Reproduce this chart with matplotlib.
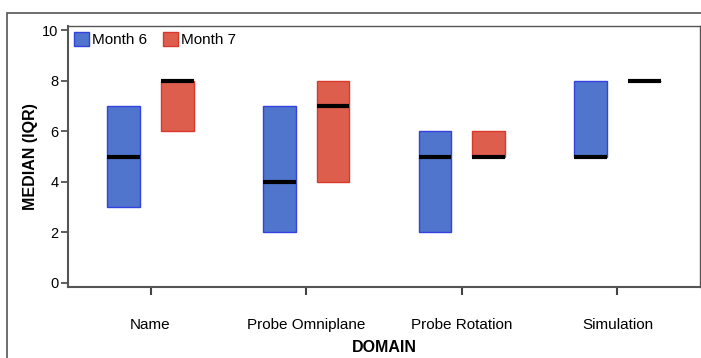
import matplotlib
matplotlib.use("Agg")
import matplotlib.pyplot as plt
from matplotlib.patches import Patch, Rectangle

plt.rcParams['font.family'] = ['Liberation Sans', 'DejaVu Sans']

domains = ["Name", "Probe Omniplane", "Probe Rotation", "Simulation"]
m6_q1 = [3, 2, 2, 5]
m6_med = [5, 4, 5, 5]
m6_q3 = [7, 7, 6, 8]
m7_q1 = [6, 4, 5, 8]
m7_med = [8, 7, 5, 8]
m7_q3 = [8, 8, 6, 8]

blue_fill, blue_edge = "#5075cc", "#3341e0"
red_fill, red_edge = "#de5e4e", "#d9382c"

fig = plt.figure(figsize=(7.01, 3.58), dpi=100)
# outer frame, partly cut off by the screenshot
fig.patches.append(Rectangle((7 / 701, -0.1), 1.2, (358 - 13) / 358 + 0.1,
                             transform=fig.transFigure, fill=False,
                             edgecolor="#555555", lw=1.2))

ax = fig.add_axes([68 / 701, (358 - 287) / 358, 632 / 701, 261 / 358])

x = range(len(domains))
off, w = 0.173, 0.21
for i in x:
    for xc, q1, med, q3, fc, ec in [
        (i - off, m6_q1[i], m6_med[i], m6_q3[i], blue_fill, blue_edge),
        (i + off, m7_q1[i], m7_med[i], m7_q3[i], red_fill, red_edge),
    ]:
        ax.bar(xc, q3 - q1, bottom=q1, width=w, color=fc, edgecolor=ec, lw=1)
        ax.hlines(med, xc - w / 2, xc + w / 2, color="black", lw=3)

ax.set_xlim(-0.53, 3.53)
ax.set_ylim(-0.16, 10.16)
ax.set_yticks([0, 2, 4, 6, 8, 10])
ax.set_xticks(list(x))
ax.set_xticklabels(domains, fontsize=11)
ax.tick_params(axis="y", labelsize=10.5, length=5, width=1.2, color="#444444", pad=2)
ax.tick_params(axis="x", length=6, width=1.5, color="#444444", pad=16)
for s in ax.spines.values():
    s.set_color("#555555")
    s.set_linewidth(1)
ax.spines["left"].set_linewidth(1.5)
ax.spines["bottom"].set_linewidth(1.5)

ax.set_ylabel("MEDIAN (IQR)", fontsize=11.5, fontweight="bold", labelpad=3)
ax.set_xlabel("DOMAIN", fontsize=11.5, fontweight="bold", labelpad=6)

handles = [Patch(facecolor=blue_fill, edgecolor=blue_edge, label="Month 6"),
           Patch(facecolor=red_fill, edgecolor=red_edge, label="Month 7")]
ax.legend(handles=handles, loc="upper left", ncol=2, frameon=False,
          fontsize=11, handlelength=1.0, handleheight=1.0, handletextpad=0.2,
          columnspacing=1.0, borderaxespad=0.2, borderpad=0.2)

fig.savefig("out.png", dpi=100)
